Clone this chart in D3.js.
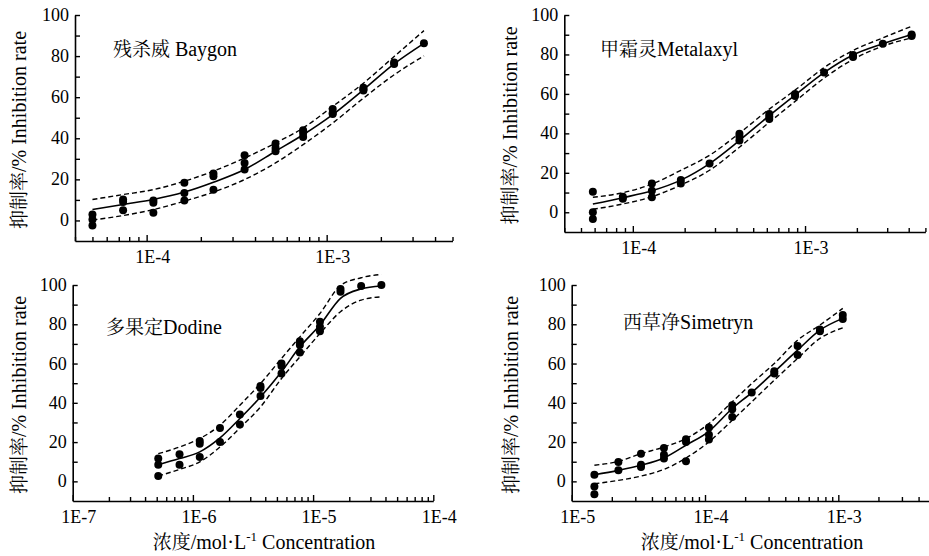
<!DOCTYPE html>
<html>
<head>
<meta charset="utf-8">
<script src="https://cdn.jsdelivr.net/npm/d3@7"></script>
</head>
<body style="margin:0">
<svg width="929" height="556" font-family="Liberation Serif"></svg>
<script>
// concentrations (mol/L) and inhibition rates
const baygonConc = [5e-5, 7.4e-5, 1.09e-4, 1.62e-4, 2.35e-4, 3.5e-4, 5.2e-4, 7.4e-4, 1.08e-3, 1.6e-3, 2.37e-3, 3.47e-3];
const baygonObs = [[2.9, 0.5, -2.4], [10.2, 9, 5], [9.7, 8.6, 3.7], [18.3, 13.4, 9.7], [22.8, 21.5, 15], [31.7, 28, 24.8],
  [37.4, 35.3, 33.7], [43.9, 42.6, 40.6], [54.2, 52.3, 51.8], [64.6, 63.9, 63.3], [76.9, 76.2], [86.2]];
const baygonFit = [5.3, 7.8, 10.2, 13.8, 18.6, 24.8, 33.7, 41.7, 51.5, 63.6, 76.2, 86.2];
const baygonUpper = [10.2, 12.6, 15, 19.1, 24, 30.4, 37.7, 45, 55.5, 66.8, 79.8, 92.4];
const baygonLower = [0.2, 2.4, 5.3, 9.4, 13.8, 19.9, 28, 36.9, 47.4, 59.5, 70.9, 80.1];

const metalaxylConc = [5.86e-5, 8.75e-5, 1.29e-4, 1.9e-4, 2.79e-4, 4.16e-4, 6.2e-4, 8.75e-4, 1.29e-3, 1.9e-3, 2.83e-3, 4.16e-3];
const metalaxylObs = [[10.4, 0, -3.4], [7.9, 6.9], [14.6, 10.9, 7.6], [16.3, 14.6], [24.7], [39.8, 38.4, 36.4],
  [49.8, 48.5, 47.3], [59.9, 59], [70.8], [79.7, 78.7], [85.4], [90.1, 89.3]];
const metalaxylFit = [4.2, 7.4, 10.9, 16.3, 24.7, 36.4, 49, 59.4, 70.8, 79.7, 85.4, 90.1];
const metalaxylUpper = [7.6, 9.9, 14.3, 21.3, 28.9, 40.1, 52.3, 61.9, 73.3, 82, 88.4, 94.3];
const metalaxylLower = [1.5, 4.2, 7.9, 13.8, 21.3, 33, 45.6, 56.2, 68, 77.5, 84.2, 88.4];

const dodineConc = [5.15e-7, 7.74e-7, 1.14e-6, 1.68e-6, 2.46e-6, 3.65e-6, 5.46e-6, 7.76e-6, 1.14e-5, 1.69e-5, 2.51e-5, 3.7e-5];
const dodineObs = [[11.6, 8.5, 2.7], [13.8, 8.5], [20.6, 19.2, 12.4], [27.2, 20.1], [34, 28.9], [48.6, 47.6, 43.5],
  [60, 58.8, 54.9], [71.4, 69.4, 65.6], [81.3, 78.7, 76.5], [98, 96.6], [99.5], [100]];
const dodineFit = [8.5, 11.6, 15, 22.1, 32, 43, 55.8, 68.5, 79.6, 93.2, 98, 99.5];
const dodineUpper = [14.1, 17.5, 21.8, 28.6, 38.8, 49.8, 62.6, 73.6, 85.5, 99.7, 103.7, 105.4];
const dodineLower = [2.7, 6.1, 9.9, 17.5, 27.2, 37.9, 52.4, 63.4, 75.3, 86.4, 92.3, 94];

const simetrynConc = [1.48e-5, 2.24e-5, 3.31e-5, 4.92e-5, 7.2e-5, 1.07e-4, 1.6e-4, 2.24e-4, 3.31e-4, 4.95e-4, 7.28e-4, 1.08e-3];
const simetrynObs = [[3.4, -2.6, -6.5], [9.9, 5.6], [14.1, 8.5, 7.3], [17, 13.6, 11.6], [21.4, 20.1, 10.2], [27.4, 23.8, 21.3],
  [38.8, 36.7, 32.8], [45.2], [56.1, 54.9], [68.9, 64.3], [77.4, 76.5], [84.7, 82.7]];
const simetrynFit = [3.4, 5.6, 8.2, 11.9, 18.4, 25.5, 37.1, 45.2, 55.8, 66.8, 77, 83];
const simetrynUpper = [8.2, 10.2, 14.1, 17.5, 21.8, 29.4, 40.5, 49.8, 60, 71.9, 79.6, 88.1];
const simetrynLower = [-1.2, 0.5, 2.7, 6.1, 11.9, 20.1, 31.1, 40.5, 51.5, 62.6, 72.8, 78.2];

const yTicks = [0, 20, 40, 60, 80, 100];
const yMinor = [10, 30, 50, 70, 90];

const SERIF = "Liberation Serif";
const CJK = "Noto Serif CJK SC";

const panels = [
  {cn: "残杀威 ", en: "Baygon", conc: baygonConc, obs: baygonObs, fit: baygonFit, upper: baygonUpper, lower: baygonLower,
   xDomain: [4e-5, 5e-3], decades: [1e-4, 1e-3], x0: 75, x1: 452.5, yTop: 15, yBot: 241,
   titleX: 113, titleY: 56, ylabX: 20, xlab: false},
  {cn: "甲霜灵", en: "Metalaxyl", conc: metalaxylConc, obs: metalaxylObs, fit: metalaxylFit, upper: metalaxylUpper, lower: metalaxylLower,
   xDomain: [4e-5, 5e-3], decades: [1e-4, 1e-3], x0: 564.3, x1: 925.4, yTop: 15, yBot: 232,
   titleX: 600, titleY: 56, ylabX: 511, xlab: false},
  {cn: "多果定", en: "Dodine", conc: dodineConc, obs: dodineObs, fit: dodineFit, upper: dodineUpper, lower: dodineLower,
   xDomain: [1e-7, 1e-4], decades: [1e-7, 1e-6, 1e-5, 1e-4], x0: 72.7, x1: 433.3, yTop: 285, yBot: 501,
   titleX: 106, titleY: 334, ylabX: 20, xlab: true, xlabX: 264},
  {cn: "西草净", en: "Simetryn", conc: simetrynConc, obs: simetrynObs, fit: simetrynFit, upper: simetrynUpper, lower: simetrynLower,
   xDomain: [1e-5, 5e-3], decades: [1e-5, 1e-4, 1e-3], x0: 571.7, x1: 931.5, yTop: 285, yBot: 501,
   titleX: 623, titleY: 329, ylabX: 512, xlab: true, xlabX: 752}
];

const svg = d3.select("svg");

function label(x, y, size, anchor, rotate) {
  const t = svg.append("text")
    .attr("transform", `translate(${x},${y})${rotate ? ` rotate(${rotate})` : ""}`)
    .attr("text-anchor", anchor || "start")
    .attr("font-size", size).attr("font-family", SERIF);
  t.node().style.fontFamily = `"${SERIF}"`;
  return t;
}
function span(t, text, family, size) {
  const s = t.append("tspan").attr("font-family", family).text(text);
  s.node().style.fontFamily = `"${family}"`;
  if (size) s.attr("font-size", size);
  return s;
}

panels.forEach(p => {
  const x = d3.scaleLog().domain(p.xDomain).range([p.x0, p.x1]);
  const y = d3.scaleLinear().domain([-10, 100]).range([p.yBot, p.yTop]);

  // minor log ticks 2..9 in each decade
  const minor = x.ticks().filter(v => !p.decades.some(d => Math.abs(v / d - 1) < 1e-9));

  svg.append("g")
    .attr("transform", `translate(0,${p.yBot})`)
    .call(d3.axisBottom(x).tickValues(minor).tickSize(-4).tickSizeOuter(0).tickFormat(""))
    .call(a => a.select(".domain").attr("stroke-width", 1.6))
    .call(a => a.selectAll(".tick line").attr("stroke-width", 1.4));
  svg.append("g")
    .attr("transform", `translate(0,${p.yBot})`)
    .call(d3.axisBottom(x).tickValues(p.decades).tickSize(-6).tickSizeOuter(0).tickFormat(""))
    .call(a => a.select(".domain").remove())
    .call(a => a.selectAll(".tick line").attr("stroke-width", 1.4));

  svg.append("g")
    .attr("transform", `translate(${p.x0},0)`)
    .call(d3.axisLeft(y).tickValues(yMinor).tickSize(-5).tickSizeOuter(0).tickFormat(""))
    .call(a => a.select(".domain").remove())
    .call(a => a.selectAll(".tick line").attr("stroke-width", 1.4));
  svg.append("g")
    .attr("transform", `translate(${p.x0},0)`)
    .call(d3.axisLeft(y).tickValues(yTicks).tickSize(-5).tickSizeOuter(0).tickFormat(""))
    .call(a => a.select(".domain").attr("stroke-width", 1.6))
    .call(a => a.selectAll(".tick line").attr("stroke-width", 1.4));

  // tick labels positioned through the scales
  p.decades.forEach(d => {
    label(x(d) + 6, p.yBot + 22, 18, "middle").text("1E" + Math.round(Math.log10(d)));
  });
  yTicks.forEach(v => {
    label(p.x0 - 6, y(v) + 6, 18, "end").text(v);
  });

  const line = d3.line().x(d => x(d[0])).y(d => y(d[1])).curve(d3.curveMonotoneX);
  const pts = arr => p.conc.map((c, i) => [c, arr[i]]);

  svg.append("path").attr("d", line(pts(p.upper)))
    .attr("fill", "none").attr("stroke", "#000").attr("stroke-width", 1.4).attr("stroke-dasharray", "5,3");
  svg.append("path").attr("d", line(pts(p.lower)))
    .attr("fill", "none").attr("stroke", "#000").attr("stroke-width", 1.4).attr("stroke-dasharray", "5,3");
  svg.append("path").attr("d", line(pts(p.fit)))
    .attr("fill", "none").attr("stroke", "#000").attr("stroke-width", 1.6);

  const dots = p.conc.flatMap((c, i) => p.obs[i].map(v => [c, v]));
  svg.append("g").selectAll("circle").data(dots).enter().append("circle")
    .attr("cx", d => x(d[0])).attr("cy", d => y(d[1])).attr("r", 4).attr("fill", "#000");

  const t = label(p.titleX, p.titleY, 19);
  span(t, p.cn, CJK);
  span(t, p.en, SERIF, 20);

  const yl = label(p.ylabX + 6, (p.yTop + p.yBot) / 2 + 2, 20, "middle", -90);
  span(yl, "抑制率", CJK, 19);
  span(yl, "/% Inhibition rate", SERIF);

  if (p.xlab) {
    const xl = label(p.xlabX, 549, 20, "middle");
    span(xl, "浓度", CJK, 19);
    span(xl, "/mol·L", SERIF);
    span(xl, "-1", SERIF, 13).attr("dy", -8);
    span(xl, " Concentration", SERIF).attr("dy", 8);
  }
});
</script>
</body>
</html>
